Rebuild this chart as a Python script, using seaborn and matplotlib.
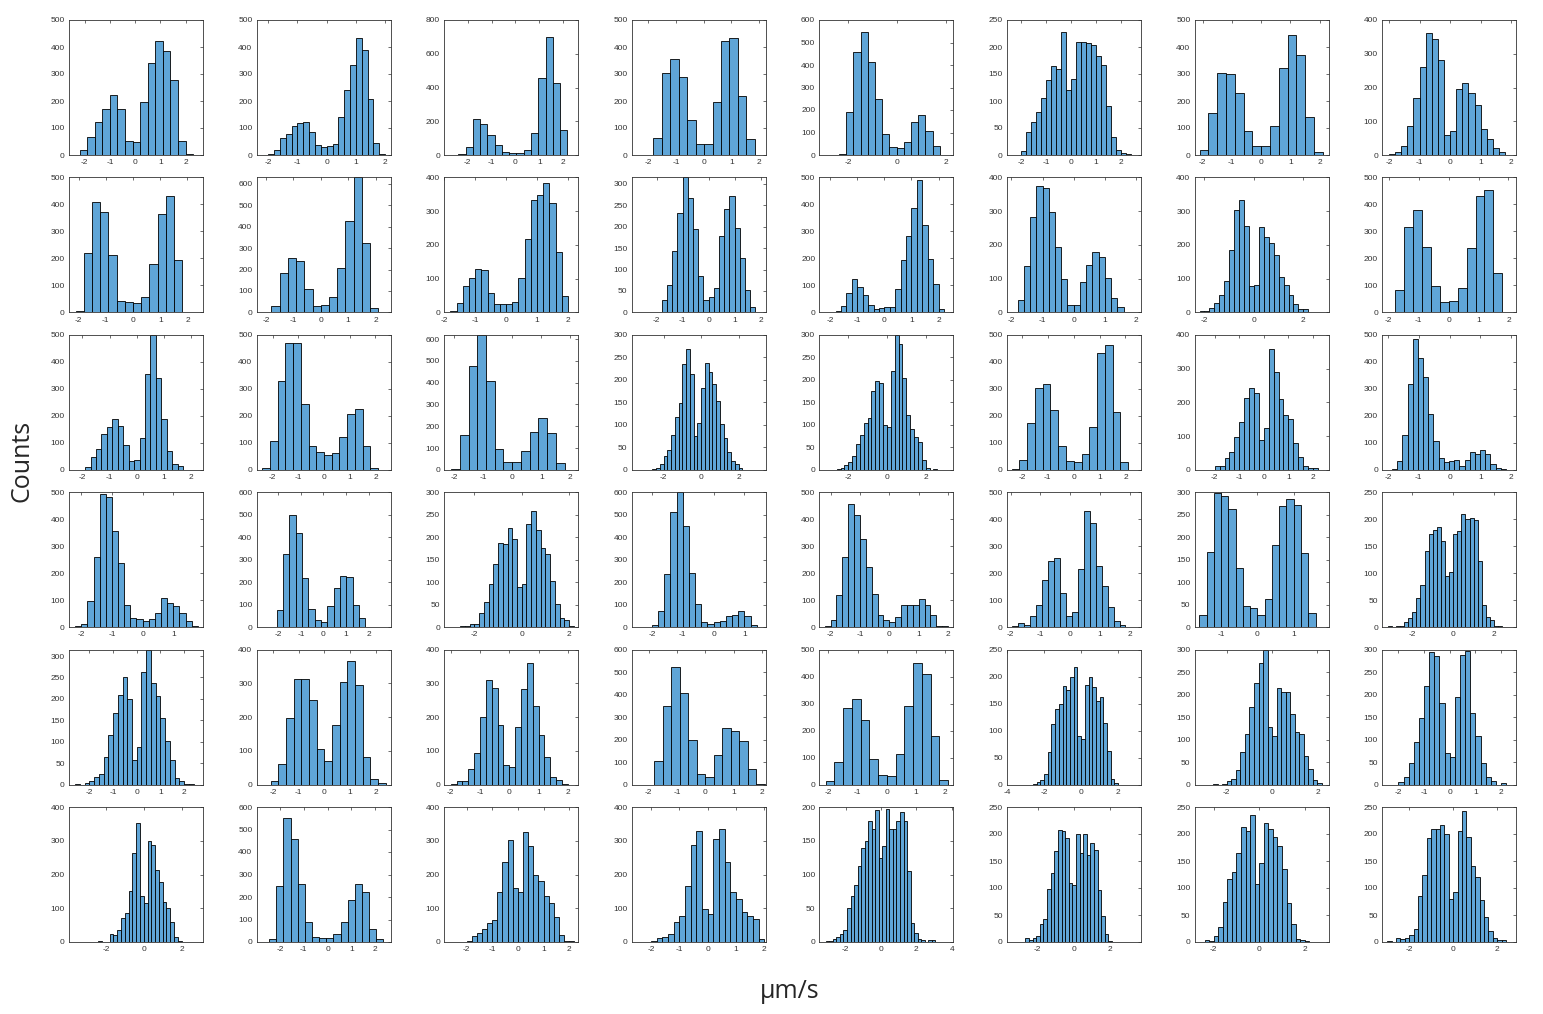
import numpy as np
import pandas as pd
import matplotlib
matplotlib.use('Agg')
import matplotlib.pyplot as plt
import seaborn as sns

# Histogram data, one entry per panel (row by row, 6 rows x 8 columns)
bin_start = [-2.2, -2.0, -2.4, -1.82, -2.36, -2.0, -2.1, -2.0,
             -2.1, -1.8, -1.8, -2.0, -1.8, -1.8, -2.2, -1.8,
             -1.9, -2.4, -2.1, -2.6, -2.6, -2.4, -2.0, -1.87,
             -2.2, -2.35, -2.6, -2.0, -2.2, -1.95, -1.6, -3.2,
             -2.6, -2.1, -2.0, -1.8, -2.1, -2.6, -2.6, -2.0,
             -2.4, -2.45, -2.0, -2.0, -3.12, -2.68, -2.4, -3.0]

bin_width = [0.3, 0.2, 0.305, 0.305, 0.293, 0.2, 0.3, 0.2,
             0.3, 0.3, 0.2, 0.2, 0.2, 0.2, 0.2, 0.3,
             0.2, 0.3, 0.3, 0.2, 0.2, 0.3, 0.2, 0.168,
             0.2, 0.28, 0.2, 0.2, 0.2, 0.2, 0.2, 0.2,
             0.2, 0.3, 0.2, 0.3, 0.3, 0.2, 0.2, 0.2,
             0.2, 0.3, 0.2, 0.2, 0.2, 0.2, 0.2, 0.2]

counts = [
    # row 1
    [18, 65, 122, 170, 222, 170, 52, 47, 198, 340, 422, 386, 278, 52, 2],
    [2, 18, 62, 78, 108, 118, 122, 85, 38, 30, 35, 42, 142, 242, 335, 435, 388, 207, 45, 5],
    [3, 48, 215, 183, 118, 62, 15, 10, 10, 30, 130, 455, 700, 428, 148],
    [62, 302, 355, 288, 130, 42, 42, 195, 422, 432, 220, 58],
    [5, 190, 458, 548, 412, 250, 95, 35, 30, 58, 148, 178, 108, 40],
    [8, 42, 62, 80, 106, 138, 165, 160, 228, 120, 140, 210, 210, 207, 203, 183, 167, 91, 34, 10, 3, 1],
    [20, 155, 303, 300, 228, 88, 32, 32, 108, 322, 443, 370, 140, 10],
    [2, 8, 27, 85, 168, 260, 360, 343, 282, 58, 70, 195, 212, 183, 148, 78, 47, 22, 10],
    # row 2
    [5, 220, 408, 372, 213, 42, 38, 35, 57, 180, 365, 432, 193, 3],
    [28, 182, 252, 242, 108, 30, 35, 70, 207, 425, 630, 325, 20],
    [5, 27, 78, 103, 128, 125, 57, 24, 24, 24, 30, 103, 218, 332, 347, 382, 325, 180, 48],
    [2, 30, 65, 143, 232, 315, 268, 195, 85, 30, 35, 57, 178, 242, 272, 198, 128, 53, 12, 2],
    [5, 22, 72, 125, 95, 65, 27, 12, 18, 20, 20, 87, 195, 283, 388, 492, 325, 197, 107, 12],
    [37, 138, 282, 375, 370, 298, 195, 100, 22, 22, 90, 140, 180, 163, 102, 42, 15, 2],
    [3, 5, 13, 27, 52, 93, 185, 303, 332, 255, 78, 82, 252, 222, 205, 170, 105, 82, 52, 25, 10, 10, 2],
    [82, 318, 380, 243, 97, 37, 42, 92, 238, 432, 455, 147, 3],
    # row 3
    [12, 47, 77, 132, 158, 188, 162, 92, 32, 38, 118, 355, 500, 340, 188, 70, 22, 13],
    [5, 108, 330, 468, 470, 242, 88, 65, 55, 63, 122, 208, 225, 90, 8],
    [3, 160, 478, 620, 410, 95, 35, 38, 88, 172, 237, 168, 30],
    [2, 5, 12, 30, 45, 78, 118, 148, 235, 268, 212, 75, 105, 182, 237, 218, 190, 153, 102, 70, 40, 20, 12, 3],
    [2, 5, 10, 17, 31, 58, 78, 103, 115, 175, 197, 193, 100, 95, 220, 300, 280, 205, 122, 90, 72, 62, 22, 5, 0, 2],
    [3, 35, 172, 303, 318, 220, 88, 32, 28, 58, 157, 432, 462, 213, 30],
    [10, 10, 35, 52, 97, 143, 212, 242, 228, 88, 125, 358, 290, 210, 162, 152, 78, 37, 12, 5, 5],
    [2, 32, 128, 318, 485, 413, 343, 205, 105, 45, 30, 32, 35, 15, 37, 65, 57, 75, 57, 22, 5, 2],
    # row 4
    [3, 12, 98, 260, 495, 483, 358, 238, 83, 35, 30, 22, 30, 53, 107, 90, 77, 53, 23, 5],
    [3, 77, 325, 500, 418, 220, 83, 33, 22, 95, 175, 228, 225, 100, 43, 3],
    [2, 2, 8, 8, 32, 57, 97, 140, 188, 185, 220, 197, 90, 97, 230, 258, 217, 177, 162, 103, 52, 20, 17, 2],
    [10, 72, 238, 510, 600, 450, 242, 105, 23, 15, 22, 28, 48, 55, 70, 50, 10],
    [3, 28, 118, 260, 455, 415, 328, 222, 123, 45, 25, 18, 37, 82, 82, 82, 103, 82, 45, 5, 3],
    [5, 15, 8, 42, 83, 175, 247, 255, 127, 42, 57, 215, 430, 385, 225, 152, 73, 23, 8],
    [28, 168, 298, 292, 262, 132, 48, 43, 27, 62, 183, 270, 285, 272, 165, 32],
    [2, 0, 2, 3, 10, 17, 28, 55, 78, 142, 173, 180, 185, 160, 95, 102, 172, 178, 210, 200, 203, 198, 122, 42, 18, 13, 3, 2],
    # row 5
    [2, 0, 3, 8, 17, 25, 65, 115, 167, 210, 250, 200, 57, 88, 263, 315, 238, 207, 155, 102, 57, 15, 8, 2, 2],
    [10, 60, 198, 312, 312, 250, 105, 70, 178, 305, 365, 295, 83, 18, 5],
    [3, 10, 12, 45, 95, 200, 310, 287, 177, 57, 52, 170, 282, 360, 232, 148, 83, 23, 15, 3],
    [105, 350, 522, 408, 200, 45, 35, 130, 250, 237, 195, 70, 2],
    [13, 85, 285, 318, 240, 95, 37, 33, 112, 290, 452, 410, 180, 17],
    [2, 5, 8, 20, 60, 113, 140, 150, 182, 175, 200, 217, 90, 85, 185, 200, 180, 155, 163, 115, 63, 10, 3],
    [2, 0, 2, 8, 13, 33, 73, 112, 173, 225, 270, 300, 128, 108, 215, 205, 205, 158, 118, 112, 63, 35, 10, 3],
    [5, 18, 47, 95, 147, 220, 295, 285, 182, 70, 62, 195, 288, 298, 160, 108, 48, 18, 8, 0, 3],
    # row 6
    [2, 0, 0, 23, 20, 35, 70, 87, 152, 263, 352, 137, 117, 298, 287, 212, 178, 120, 100, 60, 15, 2],
    [15, 248, 552, 458, 258, 87, 22, 17, 17, 37, 87, 188, 258, 222, 60, 13],
    [3, 18, 28, 38, 55, 65, 147, 238, 303, 160, 147, 325, 285, 198, 180, 135, 117, 73, 20, 2, 2],
    [2, 12, 15, 25, 60, 78, 167, 288, 330, 98, 83, 305, 335, 238, 147, 127, 88, 77, 67, 8],
    [2, 2, 5, 7, 12, 18, 50, 68, 85, 113, 140, 150, 180, 167, 195, 125, 142, 197, 167, 167, 180, 192, 180, 105, 28, 13, 5, 3, 0, 3, 3],
    [7, 3, 7, 12, 33, 42, 98, 128, 168, 207, 205, 193, 110, 105, 200, 165, 200, 162, 183, 170, 97, 48, 15, 2],
    [3, 2, 12, 28, 75, 117, 130, 165, 213, 205, 235, 108, 147, 220, 210, 195, 178, 135, 73, 33, 5, 3, 2],
    [2, 0, 7, 5, 7, 13, 25, 85, 125, 193, 210, 210, 217, 200, 80, 93, 205, 243, 195, 140, 120, 78, 47, 20, 8, 3, 3],
]

x_limits = [(-2.62, 2.69), (-2.4, 2.19), (-2.99, 2.63), (-2.6, 2.24), (-3.16, 2.3), (-2.58, 2.8), (-2.27, 2.3), (-2.22, 2.16),
            (-2.35, 2.57), (-2.34, 2.55), (-2.0, 2.33), (-2.95, 2.2), (-2.4, 2.55), (-2.14, 2.16), (-2.4, 3.02), (-2.22, 2.26),
            (-2.49, 2.43), (-2.62, 2.59), (-2.34, 2.27), (-3.7, 3.45), (-3.49, 3.43), (-2.58, 2.6), (-2.82, 2.64), (-2.19, 2.16),
            (-2.4, 1.97), (-2.97, 2.98), (-3.27, 2.38), (-2.65, 1.69), (-2.38, 2.18), (-2.12, 2.37), (-1.73, 1.96), (-3.47, 3.08),
            (-2.86, 2.8), (-2.65, 2.59), (-2.22, 2.35), (-2.59, 2.13), (-2.31, 2.28), (-4.0, 3.23), (-3.42, 2.49), (-2.63, 2.59),
            (-3.95, 3.13), (-2.98, 2.65), (-2.87, 2.35), (-2.68, 2.05), (-3.48, 4.1), (-3.7, 3.72), (-2.84, 3.05), (-3.23, 2.86)]

y_max = [500, 500, 800, 500, 600, 250, 500, 400,
         500, 630, 400, 315, 500, 400, 400, 500,
         500, 500, 620, 300, 300, 500, 400, 500,
         500, 600, 300, 600, 500, 500, 300, 250,
         315, 400, 400, 600, 500, 250, 300, 300,
         400, 600, 400, 400, 200, 250, 250, 250]

x_tick_step = [1, 1, 1, 1, 2, 1, 1, 1,
               1, 1, 1, 1, 1, 1, 2, 1,
               1, 1, 1, 2, 2, 1, 1, 1,
               1, 1, 2, 1, 1, 1, 1, 2,
               1, 1, 1, 1, 1, 2, 2, 1,
               2, 1, 1, 1, 2, 2, 2, 2]

x_label = 'μm/s'
y_label = 'Counts'

sns.set_theme(style='white')
plt.rcParams['font.family'] = ['Liberation Sans', 'DejaVu Sans']
plt.rcParams['axes.unicode_minus'] = False

W, H = 1543, 1014
fig = plt.figure(figsize=(W / 100, H / 100), dpi=100)
bar_color = '#5FA5D7'
axis_color = '#333333'

for i in range(len(counts)):
    r, c = divmod(i, 8)
    left = 69 + 187.6 * c
    top = 20 + 157.4 * r
    ax = fig.add_axes([left / W, 1 - (top + 135) / H, 134 / W, 135 / H])

    n = len(counts[i])
    edges = bin_start[i] + bin_width[i] * np.arange(n + 1)
    df = pd.DataFrame({'speed': edges[:-1] + bin_width[i] / 2, 'n': counts[i]})
    sns.histplot(data=df, x='speed', weights='n', bins=list(edges), ax=ax,
                 color=bar_color, edgecolor='black', linewidth=0.6, alpha=1)

    ax.set_xlim(*x_limits[i])
    ax.set_ylim(0, y_max[i])
    step = x_tick_step[i]
    lo = np.ceil(x_limits[i][0] / step) * step
    ax.set_xticks(np.arange(lo, x_limits[i][1] + 1e-9, step))
    ax.xaxis.set_major_formatter(matplotlib.ticker.FormatStrFormatter('%d'))
    ystep = 200 if y_max[i] >= 800 else (100 if y_max[i] >= 400 else 50)
    ax.set_yticks(np.arange(0, y_max[i] + 1, ystep))
    ax.set_xlabel('')
    ax.set_ylabel('')
    ax.tick_params(direction='in', length=2, width=0.5, top=True, right=True,
                   labelsize=6, colors=axis_color, pad=3)
    for s in ax.spines.values():
        s.set_linewidth(0.6)
        s.set_color(axis_color)

fig.text(0.0145, 0.545, y_label, rotation=90, fontsize=18, ha='center', va='center',
         family=['Open Sans', 'DejaVu Sans'])
fig.text(0.512, 0.022, x_label, fontsize=18, ha='center', va='center',
         family=['Open Sans', 'DejaVu Sans'])

fig.savefig('out.png', dpi=100)
